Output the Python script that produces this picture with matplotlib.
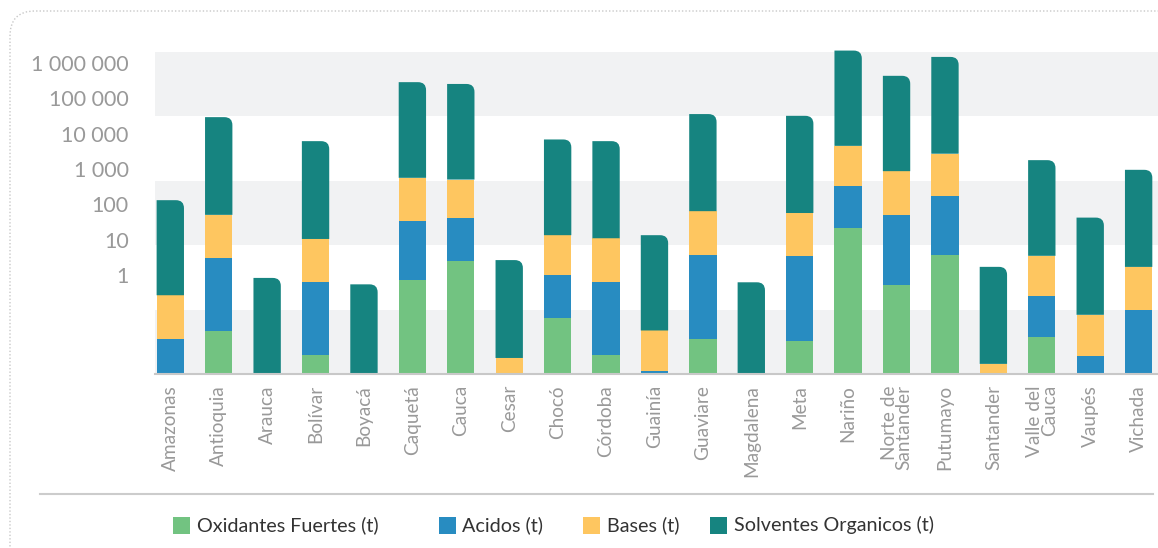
import numpy as np
import matplotlib
matplotlib.use("Agg")
from matplotlib import pyplot as plt
from matplotlib.patches import Rectangle, PathPatch, FancyBboxPatch
from matplotlib.path import Path
from matplotlib.lines import Line2D
from matplotlib.transforms import IdentityTransform
from matplotlib.ticker import FixedLocator, FuncFormatter, NullLocator

plt.rcParams['font.family'] = ['Lato', 'DejaVu Sans']

departamentos = ['Amazonas', 'Antioquia', 'Arauca', 'Bolívar', 'Boyacá', 'Caquetá',
                 'Cauca', 'Cesar', 'Chocó', 'Córdoba', 'Guainía', 'Guaviare',
                 'Magdalena', 'Meta', 'Nariño', 'Norte de\nSantander', 'Putumayo',
                 'Santander', 'Valle del\nCauca', 'Vaupés', 'Vichada']

oxidantes = [0, 0.027, 0, 0.0057, 0, 0.76, 2.6, 0, 0.065, 0.0057, 0, 0.016,
             0, 0.014, 22, 0.54, 3.8, 0, 0.0185, 0, 0]
acidos = [0.016, 3.0, 0, 0.65, 0, 34, 39, 0, 0.96, 0.66, 0.002, 3.8,
          0, 3.5, 313, 50, 171, 0, 0.25, 0.0055, 0.107]
bases = [0.26, 48, 0, 10, 0, 530, 463, 0.0047, 12.6, 10.5, 0.026, 61,
         0, 54, 4165, 820, 2525, 0.0032, 3.3, 0.072, 1.63]
solventes = [132, 29000, 0.85, 6100, 0.56, 281000, 250000, 2.7, 6800, 6100, 13.6, 35400,
             0.64, 31600, 2185000, 424000, 1447000, 1.74, 1776, 42.6, 948]

series = [('Oxidantes Fuertes (t)', oxidantes, '#72c381'),
          ('Acidos (t)', acidos, '#288cc1'),
          ('Bases (t)', bases, '#fec660'),
          ('Solventes Organicos (t)', solventes, '#168480')]

W, H = 1158, 548
fig = plt.figure(figsize=(W / 100, H / 100), dpi=100)
fig.patch.set_facecolor('white')
ax = fig.add_axes([155 / W, 1 - 374 / H, (W - 155) / W, (374 - 52) / H])
ax.set_facecolor('none')

ymin, ymax = 10 ** -2.78, 10 ** 6.30
ax.set_yscale('log')
ax.set_ylim(ymin, ymax)
ax.set_xlim(-0.316, 20.40)

# alternating bands
for i in range(5):
    if i % 2 == 0:
        ax.add_patch(Rectangle((0, i * 0.2), 1, 0.2, transform=ax.transAxes,
                               facecolor='#f1f2f3', edgecolor='none', zorder=0))

x = np.arange(len(departamentos))
bw = 0.565
cum = np.zeros(len(x))


def rounded_bar(xc, y0, y1, color, r=8):
    xl, yb = ax.transData.transform((xc - bw / 2, y0))
    xr, yt = ax.transData.transform((xc + bw / 2, y1))
    r = min(r, yt - yb, (xr - xl) / 2)
    verts = [(xl, yb), (xr, yb), (xr, yt - r), (xr, yt), (xr - r, yt), (xl, yt), (xl, yb)]
    codes = [Path.MOVETO, Path.LINETO, Path.LINETO, Path.CURVE3, Path.CURVE3,
             Path.LINETO, Path.CLOSEPOLY]
    ax.add_patch(PathPatch(Path(verts, codes), facecolor=color, edgecolor='none',
                           transform=IdentityTransform(), zorder=2, clip_on=False))


for k, (name, vals, color) in enumerate(series):
    vals = np.array(vals, dtype=float)
    top = cum + vals
    for i in x:
        y0 = max(cum[i], ymin)
        y1 = top[i]
        if y1 <= y0:
            continue
        if k == len(series) - 1:
            rounded_bar(i, y0, y1, color)
        else:
            ax.bar(i, y1 - y0, bottom=y0, width=bw, color=color, linewidth=0,
                   zorder=2, clip_on=False)
    cum = top

ax.yaxis.set_major_locator(FixedLocator([1, 10, 100, 1000, 1e4, 1e5, 1e6]))
ax.yaxis.set_minor_locator(NullLocator())
ax.yaxis.set_major_formatter(FuncFormatter(lambda v, p: f"{int(round(v)):,}".replace(',', ' ')))
ax.tick_params(axis='y', length=0, pad=19, labelsize=15.5, labelcolor='#999999')

ax.set_xticks(x)
ax.set_xticklabels(departamentos, rotation=90, ha='center', va='top',
                   multialignment='right', linespacing=0.85)
ax.tick_params(axis='x', length=0, pad=8, labelsize=13.7, labelcolor='#999999')

for s in ['left', 'right', 'top']:
    ax.spines[s].set_visible(False)
ax.spines['bottom'].set_color('#c8c8c8')
ax.spines['bottom'].set_linewidth(1.5)
ax.spines['bottom'].set_zorder(3)

# card border and separator
fig.patches.append(FancyBboxPatch((10, -60), 1300, 537 + 60, boxstyle='round,pad=0,rounding_size=25',
                                  transform=IdentityTransform(), facecolor='none',
                                  edgecolor='#c8c8c8', linestyle=(0, (1, 1.5)), linewidth=1))
fig.lines.append(Line2D([40 / W, 1153 / W], [1 - 494 / H, 1 - 494 / H], transform=fig.transFigure,
                        color='#cccccc', linewidth=1.5))

# legend
legend_x = [172.8, 438.5, 583, 709.7]
ly = 1 - 525 / H
for (name, vals, color), lx in zip(series, legend_x):
    fig.patches.append(Rectangle((lx / W, ly - 8.5 / H), 17 / W, 17 / H, transform=fig.transFigure,
                                 facecolor=color, edgecolor='none'))
    fig.text((lx + 24) / W, ly, name, fontsize=14.2, color='#333333', va='center', ha='left')

fig.savefig('out.png', dpi=100)
